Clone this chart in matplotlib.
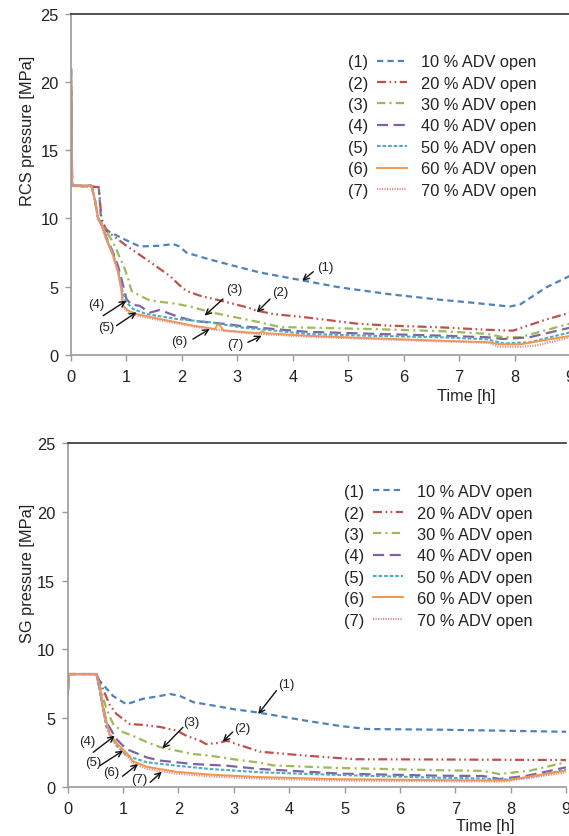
import matplotlib
matplotlib.use("Agg")
import matplotlib.pyplot as plt
from matplotlib.lines import Line2D

plt.rcParams['font.family'] = ['Liberation Sans', 'DejaVu Sans']
plt.rcParams['lines.scale_dashes'] = False

# ---------------- data ----------------
labels = ["10 % ADV open", "20 % ADV open", "30 % ADV open", "40 % ADV open",
          "50 % ADV open", "60 % ADV open", "70 % ADV open"]
tags = ["(1)", "(2)", "(3)", "(4)", "(5)", "(6)", "(7)"]
x_ticks = [0, 1, 2, 3, 4, 5, 6, 7, 8, 9]
y_ticks = [0, 5, 10, 15, 20, 25]

# RCS pressure
rcs1_t = [0, 0.02, 0.5, 0.55, 0.7, 1.0, 1.24, 1.6, 1.84, 1.96, 2.08, 2.5, 2.92, 3.4, 4.19, 4.85, 5.75, 6.65, 7.19, 7.91, 8.1, 8.57, 9.0]
rcs1_p = [21, 12.4, 12.3, 9.5, 9.0, 8.4, 7.95, 8.0, 8.13, 7.95, 7.5, 7.0, 6.55, 6.05, 5.45, 4.95, 4.45, 4.05, 3.85, 3.55, 3.7, 4.95, 5.8]
rcs2_t = [0, 0.02, 0.5, 0.55, 0.64, 1.0, 1.36, 1.78, 1.96, 2.08, 2.32, 2.68, 3.17, 3.35, 3.65, 4.25, 5.15, 5.75, 6.65, 7.5, 7.97, 8.57, 9.0]
rcs2_p = [21, 12.4, 12.3, 10.0, 9.1, 8.0, 7.0, 5.8, 5.1, 4.7, 4.35, 4.0, 3.5, 3.25, 3.0, 2.75, 2.3, 2.15, 2.03, 1.85, 1.78, 2.6, 3.1]
rcs3_t = [0, 0.02, 0.37, 0.43, 0.49, 0.55, 0.76, 0.97, 1.03, 1.09, 1.24, 1.42, 1.6, 1.9, 2.2, 2.5, 2.8, 3.1, 3.4, 3.77, 5.45, 6.65, 7.5, 7.8, 8.1, 9.0]
rcs3_p = [21, 12.4, 12.4, 11.4, 10.0, 9.6, 8.25, 6.3, 5.6, 4.7, 4.35, 4.0, 3.9, 3.75, 3.5, 3.15, 2.9, 2.65, 2.4, 2.05, 1.9, 1.75, 1.55, 1.3, 1.3, 2.3]
rcs4_t = [0, 0.02, 0.37, 0.43, 0.49, 0.55, 0.64, 0.76, 0.85, 0.94, 1.0, 1.09, 1.24, 1.42, 1.6, 1.9, 2.2, 2.8, 3.1, 4.25, 5.45, 6.65, 7.5, 7.8, 8.27, 9.0]
rcs4_p = [21, 12.4, 12.4, 11.4, 10.0, 9.6, 8.6, 7.5, 6.5, 5.1, 4.1, 3.7, 3.6, 3.1, 3.3, 2.85, 2.5, 2.27, 2.1, 1.7, 1.55, 1.42, 1.3, 1.17, 1.3, 2.0]
rcs5_t = [0, 0.02, 0.37, 0.43, 0.49, 0.55, 0.64, 0.76, 0.85, 0.94, 1.0, 1.12, 1.36, 1.9, 2.5, 3.1, 3.4, 4.25, 5.45, 6.65, 7.5, 7.8, 8.27, 9.0]
rcs5_p = [21, 12.4, 12.4, 11.4, 10.0, 9.6, 8.5, 7.4, 6.2, 4.5, 3.86, 3.37, 3.0, 2.64, 2.4, 2.0, 1.9, 1.54, 1.4, 1.3, 1.15, 0.85, 0.93, 1.66]
rcs6_t = [0, 0.02, 0.37, 0.43, 0.49, 0.55, 0.64, 0.76, 0.85, 0.91, 0.94, 1.03, 1.18, 1.6, 2.2, 2.6, 2.64, 2.68, 2.75, 3.17, 3.4, 3.45, 3.5, 4.25, 5.45, 6.65, 7.55, 7.7, 8.1, 9.0]
rcs6_p = [21, 12.4, 12.4, 11.4, 10.0, 9.6, 8.5, 7.3, 6.1, 4.8, 3.6, 3.25, 3.0, 2.64, 2.15, 1.9, 2.25, 2.2, 1.8, 1.66, 1.6, 1.75, 1.6, 1.41, 1.22, 1.05, 0.93, 0.8, 0.78, 1.4]
rcs7_t = [0, 0.02, 0.37, 0.43, 0.49, 0.55, 0.64, 0.76, 0.85, 0.91, 0.94, 1.03, 1.18, 1.6, 2.2, 2.6, 3.17, 4.25, 5.45, 6.65, 7.55, 7.7, 8.1, 8.4, 9.0]
rcs7_p = [21, 12.4, 12.4, 11.3, 9.9, 9.5, 8.4, 7.2, 6.0, 4.7, 3.5, 3.15, 2.9, 2.55, 2.1, 1.85, 1.6, 1.35, 1.18, 1.0, 0.9, 0.62, 0.6, 0.7, 1.3]

# SG pressure
sg1_t = [0, 0.02, 0.49, 0.58, 0.82, 1.06, 1.36, 1.66, 1.85, 2.03, 2.27, 2.57, 2.99, 3.44, 4.31, 4.92, 5.4, 6.72, 9.0]
sg1_p = [6.7, 8.2, 8.2, 7.7, 6.6, 6.0, 6.4, 6.6, 6.75, 6.6, 6.15, 5.95, 5.65, 5.4, 4.8, 4.42, 4.2, 4.15, 4.0]
sg2_t = [0, 0.02, 0.52, 0.76, 0.88, 1.12, 1.36, 1.67, 1.97, 2.15, 2.39, 2.5, 2.75, 2.87, 3.05, 3.23, 3.47, 3.95, 4.31, 4.67, 5.2, 6.72, 9.0]
sg2_p = [6.7, 8.2, 8.2, 5.95, 5.3, 4.56, 4.5, 4.35, 4.08, 3.7, 3.35, 3.1, 3.2, 3.35, 3.1, 2.87, 2.55, 2.38, 2.26, 2.15, 2.0, 1.98, 1.94]
sg3_t = [0, 0.02, 0.52, 0.7, 0.82, 1.0, 1.18, 1.43, 1.67, 1.97, 2.27, 2.57, 2.99, 3.47, 3.71, 4.92, 6.72, 7.5, 7.8, 8.35, 9.0]
sg3_p = [6.7, 8.2, 8.2, 5.65, 4.56, 3.97, 3.7, 3.24, 2.88, 2.62, 2.38, 2.26, 2.0, 1.75, 1.55, 1.36, 1.2, 1.15, 0.92, 1.17, 1.78]
sg4_t = [0, 0.02, 0.52, 0.7, 0.88, 1.06, 1.43, 1.67, 2.27, 2.87, 3.47, 4.92, 6.72, 7.5, 7.8, 8.3, 9.0]
sg4_p = [6.7, 8.2, 8.2, 4.7, 3.47, 2.74, 2.13, 1.9, 1.65, 1.53, 1.29, 0.95, 0.8, 0.78, 0.56, 0.8, 1.41]
sg5_t = [0, 0.02, 0.52, 0.7, 0.88, 1.06, 1.43, 1.97, 2.57, 3.47, 4.92, 6.72, 7.5, 7.8, 8.3, 9.0]
sg5_p = [6.7, 8.2, 8.2, 4.3, 3.0, 2.26, 1.78, 1.53, 1.29, 1.05, 0.85, 0.65, 0.6, 0.5, 0.65, 1.24]
sg6_t = [0, 0.02, 0.52, 0.58, 0.64, 0.76, 0.9, 1.08, 1.18, 1.43, 1.97, 2.57, 3.47, 4.9, 6.7, 7.9, 9.0]
sg6_p = [6.7, 8.2, 8.2, 7.3, 5.7, 3.8, 3.1, 2.4, 1.85, 1.45, 1.08, 0.88, 0.7, 0.55, 0.48, 0.45, 1.17]
sg7_t = [0, 0.02, 0.52, 0.58, 0.64, 0.76, 0.9, 1.08, 1.18, 1.43, 1.97, 2.57, 3.47, 4.9, 6.7, 7.9, 9.0]
sg7_p = [6.7, 8.2, 8.2, 7.2, 5.5, 3.7, 2.9, 2.2, 1.7, 1.3, 0.95, 0.75, 0.6, 0.45, 0.4, 0.38, 1.05]

# annotations: arrow head (time, pressure), arrow tail, label position
rcs_ann_head = [(4.17, 5.44), (3.35, 3.13), (2.41, 2.88), (1.0, 3.98), (1.18, 3.13), (2.5, 1.9), (3.44, 1.41)]
rcs_ann_tail = [(4.37, 6.1), (3.59, 4.1), (2.74, 4.1), (0.58, 2.88), (0.82, 2.15), (2.2, 1.17), (3.19, 0.93)]
rcs_ann_text = [(4.58, 6.45), (3.77, 4.6), (2.95, 4.84), (0.46, 3.74), (0.63, 2.03), (1.96, 1.05), (2.97, 0.8)]
sg_ann_head = [(3.44, 5.29), (2.8, 3.28), (1.71, 2.79), (0.85, 3.71), (1.0, 2.62), (1.27, 1.65), (1.7, 1.09)]
sg_ann_tail = [(3.77, 6.99), (2.98, 3.98), (2.08, 4.32), (0.46, 2.5), (0.58, 1.53), (0.99, 0.76), (1.49, 0.32)]
sg_ann_text = [(3.95, 7.47), (3.16, 4.25), (2.24, 4.69), (0.35, 3.35), (0.46, 1.78), (0.78, 1.09), (1.3, 0.56)]

colors = ['#4F81BD', '#C0504D', '#9BBB59', '#8064A2', '#4BACC6', '#F79646', '#E0928F']
styles = [(0, (4.5, 3)), (0, (6.5, 2.5, 1.2, 2.5, 1.2, 2.5)), (0, (6, 3, 1.5, 3)),
          (0, (8, 4)), (0, (2.6, 1.4)), '-', (0, (0.9, 0.9))]
widths = [1.6, 1.6, 1.6, 1.6, 1.5, 1.4, 1.6]

rcs_series = [(rcs1_t, rcs1_p), (rcs2_t, rcs2_p), (rcs3_t, rcs3_p), (rcs4_t, rcs4_p),
              (rcs5_t, rcs5_p), (rcs6_t, rcs6_p), (rcs7_t, rcs7_p)]
sg_series = [(sg1_t, sg1_p), (sg2_t, sg2_p), (sg3_t, sg3_p), (sg4_t, sg4_p),
             (sg5_t, sg5_p), (sg6_t, sg6_p), (sg7_t, sg7_p)]

W, H = 569, 837
fig = plt.figure(figsize=(W / 100, H / 100), dpi=100)
FS = 11.8
TXT = '#222222'


def px_rect(l, t, r, b):
    return [l / W, 1 - b / H, (r - l) / W, (b - t) / H]


ax1 = fig.add_axes(px_rect(71, 14.7, 570, 356))
ax2 = fig.add_axes(px_rect(67.7, 444.3, 566, 787.7))


def style_axes(ax, series, ylabel, ylab_x, ylab_y, xlab_x, xlab_y, leg_top,
               heads, tails, texts):
    for i, (t, p) in enumerate(series):
        ax.plot(t, p, color=colors[i], linestyle=styles[i], lw=widths[i], label=labels[i])
    ax.set_xlim(0, 9)
    ax.set_ylim(0, 25)
    ax.set_xticks(x_ticks)
    ax.set_yticks(y_ticks)
    ax.spines['right'].set_visible(False)
    ax.spines['top'].set_color('#333333')
    ax.spines['top'].set_linewidth(1.2)
    for s in ('left', 'bottom'):
        ax.spines[s].set_color('#9a9a9a')
        ax.spines[s].set_linewidth(1.2)
    ax.tick_params(axis='both', direction='out', length=4, width=1, color='#9a9a9a',
                   labelsize=FS, labelcolor=TXT)
    ax.tick_params(axis='x', pad=6)
    ax.tick_params(axis='y', pad=5)
    ax.set_ylabel(ylabel, fontsize=FS, color=TXT)
    ax.yaxis.set_label_coords(ylab_x, ylab_y)
    ax.set_xlabel('Time [h]', fontsize=FS, color=TXT)
    ax.xaxis.set_label_coords(xlab_x, xlab_y)
    leg = ax.legend(loc='upper left', bbox_to_anchor=(0.613, leg_top), frameon=False,
                    fontsize=FS, handlelength=1.83, handletextpad=0.85,
                    labelspacing=0.39, borderpad=0, borderaxespad=0)
    for txt in leg.get_texts():
        txt.set_color(TXT)
    ax.add_artist(leg)
    dummy = [Line2D([], [], linestyle='none') for _ in tags]
    leg2 = ax.legend(dummy, tags, loc='upper left', bbox_to_anchor=(0.555, leg_top),
                     frameon=False, fontsize=FS, handlelength=0, handletextpad=0,
                     labelspacing=0.39, borderpad=0, borderaxespad=0)
    for txt in leg2.get_texts():
        txt.set_color(TXT)
    for hd, tl, tx, tg in zip(heads, tails, texts, tags):
        ax.annotate('', xy=hd, xytext=tl,
                    arrowprops=dict(arrowstyle='->', color='#111111', lw=1.0,
                                    shrinkA=0, shrinkB=0, mutation_scale=10))
        ax.text(tx[0], tx[1], tg, fontsize=9.5, color=TXT, ha='center', va='center')


style_axes(ax1, rcs_series, 'RCS pressure [MPa]', -0.072, 0.66, 0.793, -0.098, 0.881,
           rcs_ann_head, rcs_ann_tail, rcs_ann_text)
style_axes(ax2, sg_series, 'SG pressure [MPa]', -0.066, 0.625, 0.837, -0.091, 0.881,
           sg_ann_head, sg_ann_tail, sg_ann_text)

fig.savefig('out.png', dpi=100)
